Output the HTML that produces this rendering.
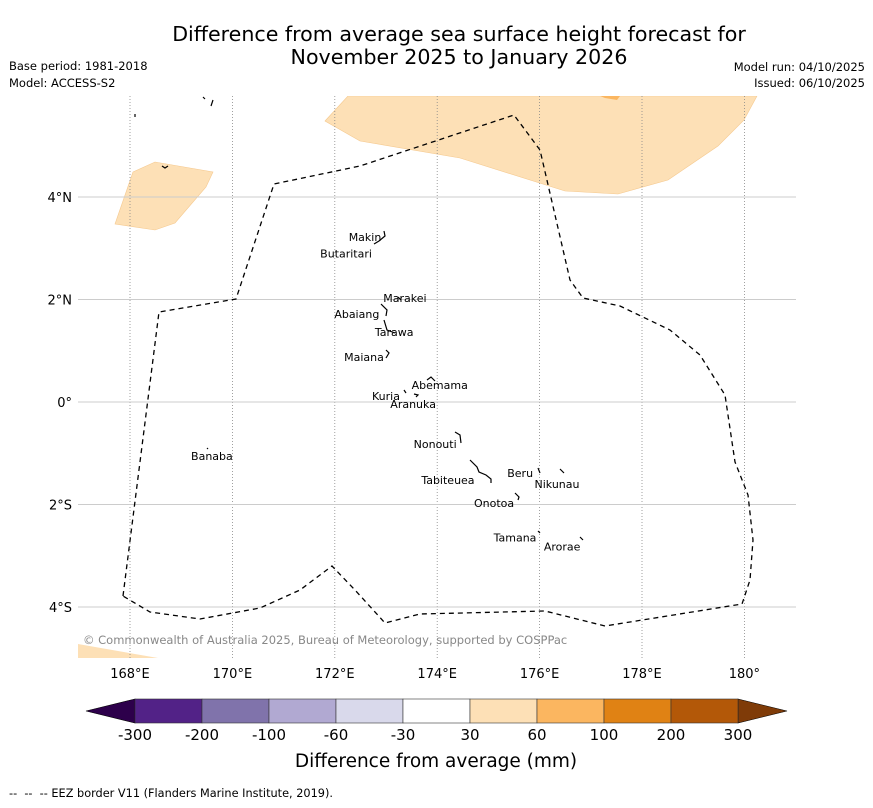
<!DOCTYPE html>
<html><head><meta charset="utf-8">
<style>
body{margin:0;background:#fff;width:873px;height:804px;overflow:hidden;font-family:"DejaVu Sans","Liberation Sans",sans-serif;}
svg text{font-family:"DejaVu Sans","Liberation Sans",sans-serif;}
</style></head>
<body>
<svg id="chart" width="873" height="804" xmlns="http://www.w3.org/2000/svg">
<text x="459" y="41" font-size="20.6" text-anchor="middle">Difference from average sea surface height forecast for</text>
<text x="459" y="64" font-size="20.6" text-anchor="middle">November 2025 to January 2026</text>
<text x="9" y="70" font-size="11.5">Base period: 1981-2018</text>
<text x="9" y="87" font-size="11.5">Model: ACCESS-S2</text>
<text x="865" y="71" font-size="11.5" text-anchor="end">Model run: 04/10/2025</text>
<text x="865" y="87" font-size="11.5" text-anchor="end">Issued: 06/10/2025</text>
<g id="map"></g>
<g id="cbar"></g>
<text x="436" y="767" font-size="18.5" text-anchor="middle">Difference from average (mm)</text>
<text x="9" y="797" font-size="11.3" xml:space="preserve">--  --  -- EEZ border V11 (Flanders Marine Institute, 2019).</text>
</svg>
<script>
const lonTicks=[168,170,172,174,176,178,180];
const lonLabels=["168°E","170°E","172°E","174°E","176°E","178°E","180°"];
const latTicks=[4,2,0,-2,-4];
const latLabels=["4°N","2°N","0°","2°S","4°S"];
const islandNames=["Makin","Butaritari","Marakei","Abaiang","Tarawa","Maiana","Abemama","Kuria","Aranuka","Nonouti","Tabiteuea","Beru","Nikunau","Onotoa","Tamana","Arorae","Banaba"];
const islandLon=[172.59,172.22,173.37,172.43,173.16,172.57,174.05,173.0,173.53,173.96,174.21,175.62,176.34,175.11,175.52,176.44,169.6];
const islandLat=[3.22,2.9,2.03,1.72,1.37,0.88,0.33,0.12,-0.04,-0.82,-1.52,-1.39,-1.6,-1.97,-2.64,-2.82,-1.05];
const cbLevels=["-300","-200","-100","-60","-30","30","60","100","200","300"];
const cbColors=["#522287","#8073ab","#b1a9d2","#d9d9eb","#ffffff","#fde0b6","#fbb660","#e08214","#b35808"];
const X=lon=>130+(lon-168)*51.2;
const Y=lat=>402-lat*51.25;
const NS="http://www.w3.org/2000/svg";
function mk(tag,attrs,parent){const e=document.createElementNS(NS,tag);for(const k in attrs)e.setAttribute(k,attrs[k]);parent.appendChild(e);return e;}
const map=document.getElementById('map');
const clip=mk('clipPath',{id:'mc'},map);mk('rect',{x:78,y:96,width:718,height:562},clip);
const g=mk('g',{'clip-path':'url(#mc)'},map);
let p=mk('path',{d:'M325,121 L348,96 L757,96 L744,120 L718,146 L668,180 L618,194 L565,191 L460,158 L360,141 Z',fill:'#fde0b6',stroke:'#f5c98f','stroke-width':0.6},g);

p=mk('path',{d:'M600,96 L620,96 L617,100 L605,98 Z',fill:'#fbb660'},g);

p=mk('path',{d:'M115,224 L133,172 L155,162 L213,172 L206,187 L175,223 L155,230 Z',fill:'#fde0b6',stroke:'#f5c98f','stroke-width':0.6},g);

p=mk('path',{d:'M78,644 L158,658 L78,658 Z',fill:'#fde0b6'},g);

lonTicks.forEach((v,i)=>{
 const l=mk('line',{x1:X(v),x2:X(v),y1:96,y2:658,stroke:'#888','stroke-width':0.8,'stroke-dasharray':'1,2'},g);
 
 const t=mk('text',{x:X(v),y:678,'font-size':13,'text-anchor':'middle'},map);t.textContent=lonLabels[i];
 
});
latTicks.forEach((v,i)=>{
 const l=mk('line',{x1:78,x2:796,y1:Y(v),y2:Y(v),stroke:'#ccc','stroke-width':1},g);
 
 const t=mk('text',{x:72,y:Y(v)+5,'font-size':13,'text-anchor':'end'},map);t.textContent=latLabels[i];
 
});
p=mk('path',{d:'M123,596 L159,312 L236,299 L274,184 L360,166 L514,115 L540,150 L570,280 L583,298 L620,306 L670,330 L700,355 L725,395 L735,462 L748,495 L753,540 L750,580 L742,604 L605,626 L545,611 L420,614 L385,623 L355,590 L332,566 L300,590 L260,608 L200,619 L150,612 Z',fill:'none',stroke:'#000','stroke-width':1.3,'stroke-dasharray':'5,4'},g);

p=mk('path',{d:'M135,114 l0,3 M203,97 l2,2 M213,100 l-2,6 M162,166 l3,2 l3,-2 M384,231 l1,5 l-6,5 l-5,3 M398,297 l3,3 M381,304 l6,6 l-1,6 M384,320 l3,10 l8,3 M386,350 l3,3 l-3,5 M427,380 l4,-3 l4,4 M404,390 l2,3 M414,394 l4,1 l-2,2 M455,432 l5,3 l1,8 M470,460 l7,7 l2,5 l7,3 l5,4 l0,4 M538,468 l2,5 M560,469 l4,4 M515,493 l4,4 l-1,3 M538,531 l2,2 M580,537 l3,3 M207,448 l1,1',stroke:'#000','stroke-width':1.2,fill:'none'},g);

islandNames.forEach((n,i)=>{
 const t=mk('text',{x:X(islandLon[i]),y:Y(islandLat[i])+4,'font-size':11,'text-anchor':'middle'},g);t.textContent=n;
 
});
const c=mk('text',{x:83,y:644,'font-size':11.5,fill:'#888'},map);
c.textContent="© Commonwealth of Australia 2025, Bureau of Meteorology, supported by COSPPac";

const cb=document.getElementById('cbar');
const x0=135,x1=738,y0=699,h=24,w=(x1-x0)/cbColors.length;
p=mk('path',{d:`M${x0},${y0} L86,${y0+h/2} L${x0},${y0+h} Z`,fill:'#2d004b',stroke:'#000','stroke-width':0.6},cb);

p=mk('path',{d:`M${x1},${y0} L787,${y0+h/2} L${x1},${y0+h} Z`,fill:'#7f3b08',stroke:'#000','stroke-width':0.6},cb);

cbColors.forEach((col,i)=>{
 const r=mk('rect',{x:x0+i*w,y:y0,width:w,height:h,fill:col,stroke:'#333','stroke-width':0.6},cb);
 
});
cbLevels.forEach((lv,i)=>{
 const t=mk('text',{x:x0+i*w,y:740,'font-size':15,'text-anchor':'middle'},cb);t.textContent=lv;
 
});
</script>
</body></html>
